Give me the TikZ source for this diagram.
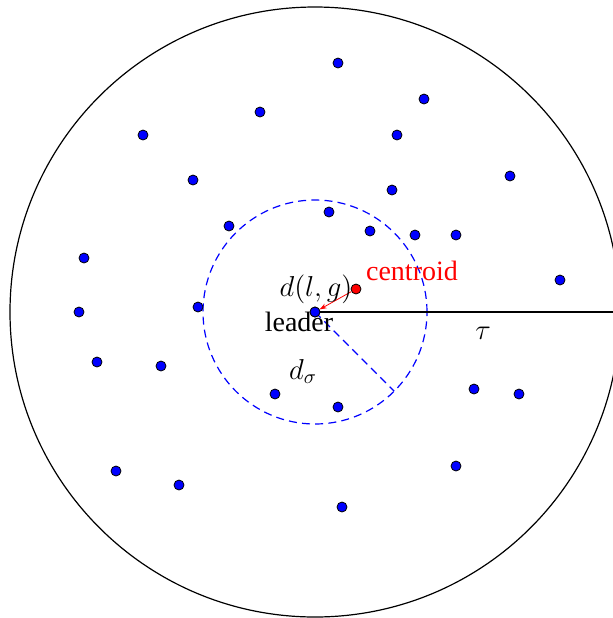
\documentclass[tikz,border=0pt]{standalone}
\usepackage{fontspec}
\setmainfont{Liberation Serif}
\usetikzlibrary{arrows.meta,calc}
\begin{document}
\begin{tikzpicture}[x=0.5pt,y=-0.5pt,
  dot/.style={circle,draw=black,fill=blue,line width=0.4pt,minimum size=5pt,inner sep=0pt},
  rdot/.style={circle,draw=black,fill=red,line width=0.4pt,minimum size=5pt,inner sep=0pt},
  lbl/.style={inner sep=0pt,anchor=base,font=\fontsize{14}{16}\selectfont},
  bluedash/.style={blue,line width=0.6pt,dash pattern=on 4pt off 2.6pt}]
\useasboundingbox (0,0) rectangle (613,618);
\clip (0,0) rectangle (613,618);
\coordinate (c) at (315,312);
\draw[line width=0.6pt] (c) circle[radius=152.5pt];
\draw[bluedash] (c) circle[radius=56pt];
\coordinate (rr) at ($(c)+(-45:56pt)$);
\coordinate (edge) at (613,312);
\node[dot] (leader) at (315,312) {};
\node[rdot] (centroid) at (356,289) {};
\draw[bluedash] (leader.center) -- (rr);
\draw[line width=0.6pt] (leader) -- (edge);
\node[dot] at (leader) {};
\draw[red,line width=0.4pt,-{Stealth[length=3.5pt,width=2.5pt]}] (centroid) -- (leader);
\foreach \p/\n in {{338,63}/a1,{424,99}/a2,{260,112}/a3,{143,135}/a4,{397,135}/a5,
  {193,180}/a6,{510,176}/a7,{392,190}/a8,{329,212}/a9,{229,226}/a10,{370,231}/a11,
  {415,235}/a12,{456,235}/a13,{84,258}/a14,{560,280}/a15,{79,312}/a16,{198,307}/a17,
  {97,362}/a18,{161,366}/a19,{275,394}/a20,{338,407}/a21,{474,389}/a22,{519,394}/a23,
  {116,471}/a24,{179,485}/a25,{456,466}/a26,{342,507}/a27}
  \node[dot] (\n) at (\p) {};
\node[lbl] (tleader) at (299,331) {leader};
\node[lbl] (tdlg) at (316,296) {$d(l,g)$};
\node[lbl,red] (tcent) at (412,280) {centroid};
\node[lbl] (tds) at (303,379) {$d_\sigma$};
\node[lbl] (ttau) at (483,339) {$\tau$};
\end{tikzpicture}
\end{document}
